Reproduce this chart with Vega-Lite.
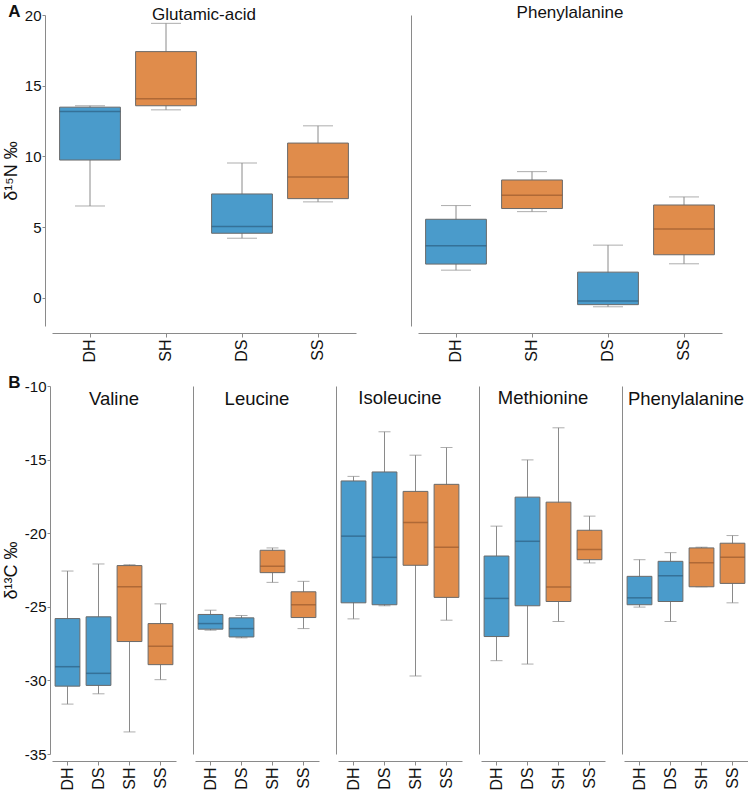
{
  "$schema": "https://vega.github.io/schema/vega-lite/v6.json",
  "padding": {"top": 3, "left": 2, "right": 0, "bottom": 0},
  "config": {
    "font": "Liberation Sans",
    "view": {"stroke": null},
    "axis": {"grid": false, "domainColor": "#8a8a8a", "tickColor": "#8a8a8a", "labelColor": "#111111", "titleColor": "#111111", "labelFont": "Liberation Sans", "titleFont": "Liberation Sans", "titleFontWeight": "normal"},
    "title": {"font": "Liberation Sans", "fontWeight": "normal", "color": "#111111"}
  },
  "data": {"values": [
    {"panel": "A1", "group": "DH", "min": 6.49, "q1": 9.74, "med": 13.18, "q3": 13.48, "max": 13.58},
    {"panel": "A1", "group": "SH", "min": 13.29, "q1": 13.58, "med": 14.07, "q3": 17.41, "max": 19.41},
    {"panel": "A1", "group": "DS", "min": 4.21, "q1": 4.56, "med": 5.04, "q3": 7.34, "max": 9.53},
    {"panel": "A1", "group": "SS", "min": 6.78, "q1": 7.01, "med": 8.54, "q3": 10.94, "max": 12.16},
    {"panel": "A2", "group": "DH", "min": 1.95, "q1": 2.38, "med": 3.67, "q3": 5.55, "max": 6.52},
    {"panel": "A2", "group": "SH", "min": 6.09, "q1": 6.31, "med": 7.25, "q3": 8.33, "max": 8.92},
    {"panel": "A2", "group": "DS", "min": -0.64, "q1": -0.49, "med": -0.24, "q3": 1.81, "max": 3.72},
    {"panel": "A2", "group": "SS", "min": 2.40, "q1": 3.04, "med": 4.87, "q3": 6.56, "max": 7.13},
    {"panel": "B1", "group": "DH", "min": -31.61, "q1": -30.39, "med": -29.07, "q3": -25.80, "max": -22.57},
    {"panel": "B1", "group": "DS", "min": -30.91, "q1": -30.34, "med": -29.52, "q3": -25.68, "max": -22.09},
    {"panel": "B1", "group": "SH", "min": -33.5, "q1": -27.36, "med": -23.64, "q3": -22.20, "max": -22.14},
    {"panel": "B1", "group": "SS", "min": -29.95, "q1": -28.93, "med": -27.68, "q3": -26.14, "max": -24.80},
    {"panel": "B2", "group": "DH", "min": -26.59, "q1": -26.52, "med": -26.14, "q3": -25.52, "max": -25.23},
    {"panel": "B2", "group": "DS", "min": -27.11, "q1": -27.05, "med": -26.48, "q3": -25.75, "max": -25.59},
    {"panel": "B2", "group": "SH", "min": -23.34, "q1": -22.68, "med": -22.25, "q3": -21.16, "max": -21.0},
    {"panel": "B2", "group": "SS", "min": -26.48, "q1": -25.73, "med": -24.86, "q3": -23.98, "max": -23.27},
    {"panel": "B3", "group": "DH", "min": -25.82, "q1": -24.73, "med": -20.2, "q3": -16.45, "max": -16.14},
    {"panel": "B3", "group": "DS", "min": -24.93, "q1": -24.86, "med": -21.64, "q3": -15.84, "max": -13.11},
    {"panel": "B3", "group": "SH", "min": -29.70, "q1": -22.18, "med": -19.27, "q3": -17.16, "max": -14.70},
    {"panel": "B3", "group": "SS", "min": -25.91, "q1": -24.36, "med": -20.95, "q3": -16.68, "max": -14.18},
    {"panel": "B4", "group": "DH", "min": -28.66, "q1": -27.02, "med": -24.43, "q3": -21.55, "max": -19.52},
    {"panel": "B4", "group": "DS", "min": -28.89, "q1": -24.93, "med": -20.55, "q3": -17.55, "max": -15.02},
    {"panel": "B4", "group": "SH", "min": -26.0, "q1": -24.64, "med": -23.66, "q3": -17.89, "max": -12.84},
    {"panel": "B4", "group": "SS", "min": -22.02, "q1": -21.80, "med": -21.11, "q3": -19.80, "max": -18.84},
    {"panel": "B5", "group": "DH", "min": -25.02, "q1": -24.86, "med": -24.39, "q3": -22.93, "max": -21.80},
    {"panel": "B5", "group": "DS", "min": -26.0, "q1": -24.64, "med": -22.89, "q3": -21.91, "max": -21.32},
    {"panel": "B5", "group": "SH", "min": -23.64, "q1": -23.64, "med": -22.0, "q3": -21.0, "max": -20.95},
    {"panel": "B5", "group": "SS", "min": -24.73, "q1": -23.41, "med": -21.64, "q3": -20.68, "max": -20.16}
  ]},
  "spacing": 11,
  "resolve": {"scale": {"x": "independent", "y": "independent"}},
  "vconcat": [
    {
      "title": {"text": "A", "anchor": "start", "frame": "bounds", "fontSize": 17, "fontWeight": "bold", "offset": 0, "dx": 6, "dy": 17},
      "bounds": "flush",
      "spacing": 62,
      "resolve": {"scale": {"x": "independent", "y": "independent"}},
      "hconcat": [
        {
          "width": 304, "height": 311,
          "title": {"text": "Glutamic-acid", "fontSize": 17, "offset": 0, "dy": 16},
          "transform": [{"filter": "datum.panel === 'A1'"}],
          "encoding": {"x": {"field": "group", "type": "nominal", "title": null, "scale": {"domain": ["DH", "SH", "DS", "SS"], "paddingInner": 0.2, "paddingOuter": 0.1}, "axis": {"labelAngle": -90, "labelFontSize": 16, "offset": 7, "tickSize": 4, "labelPadding": 2}}},
          "layer": [
            {"mark": {"type": "rule", "color": "#8a8a8a", "strokeWidth": 1}, "encoding": {"y": {"field": "min", "type": "quantitative", "title": "δ¹⁵N ‰", "scale": {"domain": [-2, 20], "nice": false, "zero": false}, "axis": {"values": [0, 5, 10, 15, 20], "offset": 7, "tickSize": 3, "labelFontSize": 15, "labelPadding": 1, "titleFontSize": 18, "titlePadding": 4}}, "y2": {"field": "max"}}},
            {"mark": {"type": "tick", "size": 30, "thickness": 1, "color": "#8a8a8a"}, "encoding": {"y": {"field": "min", "type": "quantitative", "title": "δ¹⁵N ‰"}}},
            {"mark": {"type": "tick", "size": 30, "thickness": 1, "color": "#8a8a8a"}, "encoding": {"y": {"field": "max", "type": "quantitative", "title": "δ¹⁵N ‰"}}},
            {"mark": {"type": "bar", "stroke": "#6a6a6a", "strokeWidth": 1}, "encoding": {"y": {"field": "q1", "type": "quantitative", "title": "δ¹⁵N ‰"}, "y2": {"field": "q3"}, "fill": {"field": "group", "type": "nominal", "legend": null, "scale": {"domain": ["DH", "DS", "SH", "SS"], "range": ["#4a9bcb", "#4a9bcb", "#e08c4b", "#e08c4b"]}}}},
            {"mark": {"type": "tick", "size": 60.8, "thickness": 1.5}, "encoding": {"y": {"field": "med", "type": "quantitative", "title": "δ¹⁵N ‰"}, "color": {"field": "group", "type": "nominal", "legend": null, "scale": {"domain": ["DH", "DS", "SH", "SS"], "range": ["#2c5f82", "#2c5f82", "#9a5a2e", "#9a5a2e"]}}}}
          ]
        },
        {
          "width": 304, "height": 311,
          "title": {"text": "Phenylalanine", "fontSize": 17, "offset": 0, "dy": 7},
          "transform": [{"filter": "datum.panel === 'A2'"}],
          "encoding": {"x": {"field": "group", "type": "nominal", "title": null, "scale": {"domain": ["DH", "SH", "DS", "SS"], "paddingInner": 0.2, "paddingOuter": 0.1}, "axis": {"labelAngle": -90, "labelFontSize": 16, "offset": 7, "tickSize": 4, "labelPadding": 2}}},
          "layer": [
            {"mark": {"type": "rule", "color": "#8a8a8a", "strokeWidth": 1}, "encoding": {"y": {"field": "min", "type": "quantitative", "title": null, "scale": {"domain": [-2, 20], "nice": false, "zero": false}, "axis": {"offset": 7, "labels": false, "ticks": false}}, "y2": {"field": "max"}}},
            {"mark": {"type": "tick", "size": 30, "thickness": 1, "color": "#8a8a8a"}, "encoding": {"y": {"field": "min", "type": "quantitative", "title": null}}},
            {"mark": {"type": "tick", "size": 30, "thickness": 1, "color": "#8a8a8a"}, "encoding": {"y": {"field": "max", "type": "quantitative", "title": null}}},
            {"mark": {"type": "bar", "stroke": "#6a6a6a", "strokeWidth": 1}, "encoding": {"y": {"field": "q1", "type": "quantitative", "title": null}, "y2": {"field": "q3"}, "fill": {"field": "group", "type": "nominal", "legend": null, "scale": {"domain": ["DH", "DS", "SH", "SS"], "range": ["#4a9bcb", "#4a9bcb", "#e08c4b", "#e08c4b"]}}}},
            {"mark": {"type": "tick", "size": 60.8, "thickness": 1.5}, "encoding": {"y": {"field": "med", "type": "quantitative", "title": null}, "color": {"field": "group", "type": "nominal", "legend": null, "scale": {"domain": ["DH", "DS", "SH", "SS"], "range": ["#2c5f82", "#2c5f82", "#9a5a2e", "#9a5a2e"]}}}}
          ]
        }
      ]
    },
    {
      "title": {"text": "B", "anchor": "start", "frame": "bounds", "fontSize": 17, "fontWeight": "bold", "offset": 0, "dx": 6, "dy": 13},
      "bounds": "flush",
      "spacing": 19,
      "resolve": {"scale": {"x": "independent", "y": "independent"}},
      "hconcat": [
        {
          "width": 124, "height": 368,
          "title": {"text": "Valine", "fontSize": 18.5, "offset": 0, "dy": 29},
          "transform": [{"filter": "datum.panel === 'B1'"}],
          "encoding": {"x": {"field": "group", "type": "nominal", "title": null, "scale": {"domain": ["DH", "DS", "SH", "SS"], "paddingInner": 0.2, "paddingOuter": 0.1}, "axis": {"labelAngle": -90, "labelFontSize": 16, "offset": 7, "tickSize": 4, "labelPadding": 2}}},
          "layer": [
            {"mark": {"type": "rule", "color": "#8a8a8a", "strokeWidth": 1}, "encoding": {"y": {"field": "min", "type": "quantitative", "title": "δ¹³C ‰", "scale": {"domain": [-35, -10], "nice": false, "zero": false}, "axis": {"values": [-35, -30, -25, -20, -15, -10], "labelExpr": "replace(datum.label, '−', '-')", "offset": 2, "tickSize": 3, "labelFontSize": 15, "labelPadding": 1, "titleFontSize": 18, "titlePadding": 4}}, "y2": {"field": "max"}}},
            {"mark": {"type": "tick", "size": 12, "thickness": 1, "color": "#8a8a8a"}, "encoding": {"y": {"field": "min", "type": "quantitative", "title": "δ¹³C ‰"}}},
            {"mark": {"type": "tick", "size": 12, "thickness": 1, "color": "#8a8a8a"}, "encoding": {"y": {"field": "max", "type": "quantitative", "title": "δ¹³C ‰"}}},
            {"mark": {"type": "bar", "stroke": "#6a6a6a", "strokeWidth": 1}, "encoding": {"y": {"field": "q1", "type": "quantitative", "title": "δ¹³C ‰"}, "y2": {"field": "q3"}, "fill": {"field": "group", "type": "nominal", "legend": null, "scale": {"domain": ["DH", "DS", "SH", "SS"], "range": ["#4a9bcb", "#4a9bcb", "#e08c4b", "#e08c4b"]}}}},
            {"mark": {"type": "tick", "size": 24.8, "thickness": 1.5}, "encoding": {"y": {"field": "med", "type": "quantitative", "title": "δ¹³C ‰"}, "color": {"field": "group", "type": "nominal", "legend": null, "scale": {"domain": ["DH", "DS", "SH", "SS"], "range": ["#2c5f82", "#2c5f82", "#9a5a2e", "#9a5a2e"]}}}}
          ]
        },
        {
          "width": 124, "height": 368,
          "title": {"text": "Leucine", "fontSize": 18.5, "offset": 0, "dy": 22},
          "transform": [{"filter": "datum.panel === 'B2'"}],
          "encoding": {"x": {"field": "group", "type": "nominal", "title": null, "scale": {"domain": ["DH", "DS", "SH", "SS"], "paddingInner": 0.2, "paddingOuter": 0.1}, "axis": {"labelAngle": -90, "labelFontSize": 16, "offset": 7, "tickSize": 4, "labelPadding": 2}}},
          "layer": [
            {"mark": {"type": "rule", "color": "#8a8a8a", "strokeWidth": 1}, "encoding": {"y": {"field": "min", "type": "quantitative", "title": null, "scale": {"domain": [-35, -10], "nice": false, "zero": false}, "axis": {"offset": 2, "labels": false, "ticks": false}}, "y2": {"field": "max"}}},
            {"mark": {"type": "tick", "size": 12, "thickness": 1, "color": "#8a8a8a"}, "encoding": {"y": {"field": "min", "type": "quantitative", "title": null}}},
            {"mark": {"type": "tick", "size": 12, "thickness": 1, "color": "#8a8a8a"}, "encoding": {"y": {"field": "max", "type": "quantitative", "title": null}}},
            {"mark": {"type": "bar", "stroke": "#6a6a6a", "strokeWidth": 1}, "encoding": {"y": {"field": "q1", "type": "quantitative", "title": null}, "y2": {"field": "q3"}, "fill": {"field": "group", "type": "nominal", "legend": null, "scale": {"domain": ["DH", "DS", "SH", "SS"], "range": ["#4a9bcb", "#4a9bcb", "#e08c4b", "#e08c4b"]}}}},
            {"mark": {"type": "tick", "size": 24.8, "thickness": 1.5}, "encoding": {"y": {"field": "med", "type": "quantitative", "title": null}, "color": {"field": "group", "type": "nominal", "legend": null, "scale": {"domain": ["DH", "DS", "SH", "SS"], "range": ["#2c5f82", "#2c5f82", "#9a5a2e", "#9a5a2e"]}}}}
          ]
        },
        {
          "width": 124, "height": 368,
          "title": {"text": "Isoleucine", "fontSize": 18.5, "offset": 0, "dy": 21},
          "transform": [{"filter": "datum.panel === 'B3'"}],
          "encoding": {"x": {"field": "group", "type": "nominal", "title": null, "scale": {"domain": ["DH", "DS", "SH", "SS"], "paddingInner": 0.2, "paddingOuter": 0.1}, "axis": {"labelAngle": -90, "labelFontSize": 16, "offset": 7, "tickSize": 4, "labelPadding": 2}}},
          "layer": [
            {"mark": {"type": "rule", "color": "#8a8a8a", "strokeWidth": 1}, "encoding": {"y": {"field": "min", "type": "quantitative", "title": null, "scale": {"domain": [-35, -10], "nice": false, "zero": false}, "axis": {"offset": 2, "labels": false, "ticks": false}}, "y2": {"field": "max"}}},
            {"mark": {"type": "tick", "size": 12, "thickness": 1, "color": "#8a8a8a"}, "encoding": {"y": {"field": "min", "type": "quantitative", "title": null}}},
            {"mark": {"type": "tick", "size": 12, "thickness": 1, "color": "#8a8a8a"}, "encoding": {"y": {"field": "max", "type": "quantitative", "title": null}}},
            {"mark": {"type": "bar", "stroke": "#6a6a6a", "strokeWidth": 1}, "encoding": {"y": {"field": "q1", "type": "quantitative", "title": null}, "y2": {"field": "q3"}, "fill": {"field": "group", "type": "nominal", "legend": null, "scale": {"domain": ["DH", "DS", "SH", "SS"], "range": ["#4a9bcb", "#4a9bcb", "#e08c4b", "#e08c4b"]}}}},
            {"mark": {"type": "tick", "size": 24.8, "thickness": 1.5}, "encoding": {"y": {"field": "med", "type": "quantitative", "title": null}, "color": {"field": "group", "type": "nominal", "legend": null, "scale": {"domain": ["DH", "DS", "SH", "SS"], "range": ["#2c5f82", "#2c5f82", "#9a5a2e", "#9a5a2e"]}}}}
          ]
        },
        {
          "width": 124, "height": 368,
          "title": {"text": "Methionine", "fontSize": 18.5, "offset": 0, "dy": 21},
          "transform": [{"filter": "datum.panel === 'B4'"}],
          "encoding": {"x": {"field": "group", "type": "nominal", "title": null, "scale": {"domain": ["DH", "DS", "SH", "SS"], "paddingInner": 0.2, "paddingOuter": 0.1}, "axis": {"labelAngle": -90, "labelFontSize": 16, "offset": 7, "tickSize": 4, "labelPadding": 2}}},
          "layer": [
            {"mark": {"type": "rule", "color": "#8a8a8a", "strokeWidth": 1}, "encoding": {"y": {"field": "min", "type": "quantitative", "title": null, "scale": {"domain": [-35, -10], "nice": false, "zero": false}, "axis": {"offset": 2, "labels": false, "ticks": false}}, "y2": {"field": "max"}}},
            {"mark": {"type": "tick", "size": 12, "thickness": 1, "color": "#8a8a8a"}, "encoding": {"y": {"field": "min", "type": "quantitative", "title": null}}},
            {"mark": {"type": "tick", "size": 12, "thickness": 1, "color": "#8a8a8a"}, "encoding": {"y": {"field": "max", "type": "quantitative", "title": null}}},
            {"mark": {"type": "bar", "stroke": "#6a6a6a", "strokeWidth": 1}, "encoding": {"y": {"field": "q1", "type": "quantitative", "title": null}, "y2": {"field": "q3"}, "fill": {"field": "group", "type": "nominal", "legend": null, "scale": {"domain": ["DH", "DS", "SH", "SS"], "range": ["#4a9bcb", "#4a9bcb", "#e08c4b", "#e08c4b"]}}}},
            {"mark": {"type": "tick", "size": 24.8, "thickness": 1.5}, "encoding": {"y": {"field": "med", "type": "quantitative", "title": null}, "color": {"field": "group", "type": "nominal", "legend": null, "scale": {"domain": ["DH", "DS", "SH", "SS"], "range": ["#2c5f82", "#2c5f82", "#9a5a2e", "#9a5a2e"]}}}}
          ]
        },
        {
          "width": 124, "height": 368,
          "title": {"text": "Phenylalanine", "fontSize": 18.5, "offset": 0, "dy": 22},
          "transform": [{"filter": "datum.panel === 'B5'"}],
          "encoding": {"x": {"field": "group", "type": "nominal", "title": null, "scale": {"domain": ["DH", "DS", "SH", "SS"], "paddingInner": 0.2, "paddingOuter": 0.1}, "axis": {"labelAngle": -90, "labelFontSize": 16, "offset": 7, "tickSize": 4, "labelPadding": 2}}},
          "layer": [
            {"mark": {"type": "rule", "color": "#8a8a8a", "strokeWidth": 1}, "encoding": {"y": {"field": "min", "type": "quantitative", "title": null, "scale": {"domain": [-35, -10], "nice": false, "zero": false}, "axis": {"offset": 2, "labels": false, "ticks": false}}, "y2": {"field": "max"}}},
            {"mark": {"type": "tick", "size": 12, "thickness": 1, "color": "#8a8a8a"}, "encoding": {"y": {"field": "min", "type": "quantitative", "title": null}}},
            {"mark": {"type": "tick", "size": 12, "thickness": 1, "color": "#8a8a8a"}, "encoding": {"y": {"field": "max", "type": "quantitative", "title": null}}},
            {"mark": {"type": "bar", "stroke": "#6a6a6a", "strokeWidth": 1}, "encoding": {"y": {"field": "q1", "type": "quantitative", "title": null}, "y2": {"field": "q3"}, "fill": {"field": "group", "type": "nominal", "legend": null, "scale": {"domain": ["DH", "DS", "SH", "SS"], "range": ["#4a9bcb", "#4a9bcb", "#e08c4b", "#e08c4b"]}}}},
            {"mark": {"type": "tick", "size": 24.8, "thickness": 1.5}, "encoding": {"y": {"field": "med", "type": "quantitative", "title": null}, "color": {"field": "group", "type": "nominal", "legend": null, "scale": {"domain": ["DH", "DS", "SH", "SS"], "range": ["#2c5f82", "#2c5f82", "#9a5a2e", "#9a5a2e"]}}}}
          ]
        }
      ]
    }
  ]
}
